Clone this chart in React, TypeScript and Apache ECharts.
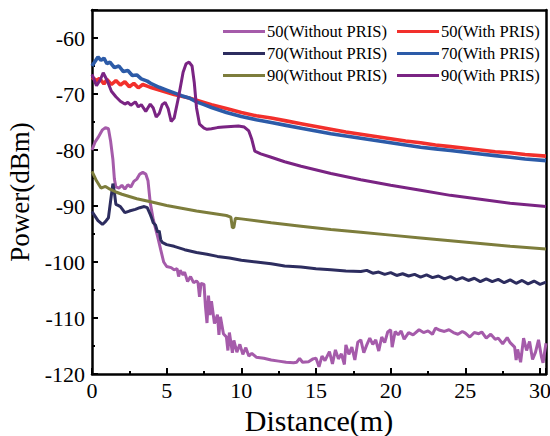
import React, { useEffect, useRef } from "react";
import * as echarts from "echarts";

const xTicks = [0, 5, 10, 15, 20, 25, 30];
const yTicks = [-120, -110, -100, -90, -80, -70, -60];

const seriesNames = [
  "50(Without PRIS)",
  "50(With PRIS)",
  "70(Without PRIS)",
  "70(With PRIS)",
  "90(Without PRIS)",
  "90(With PRIS)",
];

const colors = ["#A55BAA", "#F2302C", "#2D2D5F", "#2C5BA8", "#7D7D3C", "#7A2483"];

const s50Without: number[][] = [
  [0, -80], [0.2, -78.6], [0.4, -77.8], [0.7, -76.4], [0.9, -76], [1.1, -76.2], [1.25, -78.5],
  [1.4, -81.7], [1.5, -85.2], [1.6, -86.6], [1.8, -86.8], [2.0, -86.3], [2.2, -87], [2.4, -86.2],
  [2.6, -86.6], [2.8, -85.6], [3.0, -85.2], [3.2, -84.3], [3.4, -84], [3.6, -84.3], [3.75, -85.5],
  [3.9, -89.4], [4.1, -92.4], [4.3, -94.5], [4.4, -95.5], [4.6, -97.8], [4.8, -100], [5.0, -100.8],
  [5.3, -101], [5.5, -101.4], [5.7, -101.2], [5.8, -102.6], [5.9, -101.5], [6.1, -102.3], [6.2, -101.8],
  [6.4, -103.5], [6.6, -102.6], [6.8, -103.7], [7.0, -103.4], [7.1, -103.7], [7.2, -106.2], [7.3, -103.8],
  [7.5, -104], [7.6, -108], [7.7, -110.9], [7.8, -106], [7.9, -109.5], [8.0, -107], [8.2, -111],
  [8.4, -109.4], [8.5, -113], [8.6, -109.8], [8.8, -112.8], [9.0, -113.4], [9.1, -115.8], [9.2, -112.6],
  [9.4, -116.2], [9.5, -114], [9.7, -116.1], [9.9, -114.7], [10.1, -116.5], [10.3, -115.3], [10.5, -116.8],
  [10.7, -116.3], [11, -117], [11.5, -117.2], [12, -117.5], [12.5, -117.7], [13, -117.9], [13.5, -118],
  [13.7, -117.9], [13.9, -117.2], [14.1, -117.9], [14.5, -117.8], [14.8, -117.3], [15.0, -117.2],
  [15.2, -118.7], [15.4, -116.8], [15.6, -117.6], [15.9, -116], [16.1, -118.2], [16.3, -115.7],
  [16.5, -117.3], [16.7, -116.4], [16.9, -118.3], [17.0, -114.8], [17.2, -116.5], [17.4, -115.2],
  [17.6, -117.5], [17.8, -114.3], [18.0, -113.9], [18.2, -116.2], [18.4, -114.8], [18.6, -113.6],
  [18.8, -114.7], [19.0, -113.9], [19.2, -115.9], [19.4, -113.4], [19.6, -114.4], [19.8, -112.5],
  [20.0, -112.1], [20.1, -115.2], [20.3, -112.4], [20.5, -113], [20.7, -112.3], [20.9, -113.8],
  [21.2, -112.6], [21.5, -113], [21.9, -112.1], [22.2, -112.6], [22.5, -112.3], [22.8, -112.9],
  [23.0, -111.8], [23.3, -112.2], [23.6, -112.4], [23.9, -112.1], [24.2, -112.6], [24.5, -112.9],
  [24.8, -112.4], [25.0, -112.7], [25.3, -113.4], [25.6, -112.6], [25.9, -112.8], [26.1, -112.5],
  [26.4, -113.6], [26.7, -112.9], [27.0, -113.8], [27.2, -113.6], [27.5, -114.6], [27.8, -113.5],
  [28.0, -114.4], [28.3, -115.2], [28.4, -117.5], [28.5, -115.6], [28.7, -117.9], [28.9, -113.6],
  [29.1, -115.8], [29.3, -114.2], [29.5, -117.4], [29.7, -116.1], [29.9, -113.9], [30.1, -117],
  [30.2, -118], [30.4, -114.5],
];

const s50With: number[][] = [
  [0, -67], [0.3, -67.6], [0.5, -67.2], [0.8, -68.2], [1.0, -67.4], [1.3, -68.3], [1.6, -67.6],
  [1.9, -68.4], [2.2, -67.8], [2.5, -68.7], [2.8, -68.1], [3.1, -68.9], [3.4, -68.3], [3.7, -68.6],
  [4, -68.9], [4.5, -69.3], [5, -69.7], [5.5, -70.1], [6, -70.4], [6.5, -70.7], [7, -71.1],
  [7.5, -71.5], [8, -71.9], [9, -72.6], [10, -73.3], [11, -73.9], [12, -74.3], [13, -74.8],
  [14, -75.3], [15, -75.8], [16, -76.3], [17, -76.8], [18, -77.2], [19, -77.6], [20, -78],
  [21, -78.4], [22, -78.7], [23, -79.1], [24, -79.4], [25, -79.7], [26, -80], [27, -80.3],
  [28, -80.5], [29, -80.8], [30.4, -81.1],
];

const s70Without: number[][] = [
  [0, -91], [0.2, -91.8], [0.4, -92.6], [0.7, -93.3], [0.9, -92.8], [1.1, -92.1], [1.25, -89],
  [1.4, -86], [1.5, -87.6], [1.6, -89.7], [1.75, -89.9], [1.9, -90.1], [2.2, -91.2], [2.5, -90.9],
  [2.9, -90.6], [3.2, -90.3], [3.5, -90.1], [3.7, -90.3], [3.9, -91.5], [4.0, -92.2], [4.1, -93],
  [4.25, -93.4], [4.4, -94.7], [4.5, -94.4], [4.6, -96], [4.7, -96.5], [5.0, -96.9], [5.5, -97.2],
  [6.2, -97.8], [7, -98.3], [7.7, -98.6], [8.4, -99], [9.2, -99.3], [10, -99.7], [11, -100],
  [12, -100.3], [12.9, -100.7], [14, -100.9], [15, -101.2], [16, -101.4], [17, -101.6],
  [18, -101.7], [18.4, -101.5], [18.8, -102], [19.2, -101.8], [19.6, -102.2], [20, -101.9],
  [20.4, -102.4], [20.8, -102.1], [21.2, -102.5], [21.6, -102.2], [22, -102.7], [22.4, -102.3],
  [22.8, -102.8], [23.2, -102.5], [23.6, -103], [24, -102.6], [24.4, -103.2], [24.8, -102.8],
  [25.2, -103.3], [25.6, -102.9], [26, -103.5], [26.4, -103], [26.8, -103.5], [27.2, -103.1],
  [27.6, -103.7], [28, -103.2], [28.4, -103.8], [28.8, -103.3], [29.2, -103.9], [29.6, -103.4],
  [30, -104], [30.4, -103.6],
];

const s70With: number[][] = [
  [0, -65], [0.2, -64.2], [0.4, -63.4], [0.6, -64], [0.8, -63.6], [1.0, -64.6], [1.2, -64.3],
  [1.5, -65.3], [1.8, -65], [2.1, -66], [2.4, -65.8], [2.7, -66.7], [3, -66.6], [3.3, -67.3],
  [3.7, -67.7], [4, -68.2], [4.5, -68.8], [5, -69.3], [5.5, -69.8], [6, -70.3], [6.5, -70.7],
  [7, -71.4], [7.5, -71.9], [8, -72.4], [9, -73.3], [10, -74], [11, -74.6], [12, -75.1],
  [13, -75.6], [14, -76.1], [15, -76.6], [16, -77.1], [17, -77.5], [18, -77.9], [19, -78.3],
  [20, -78.7], [21, -79.1], [22, -79.5], [23, -79.8], [24, -80.1], [25, -80.4], [26, -80.7],
  [27, -81], [28, -81.3], [29, -81.6], [30.4, -81.9],
];

const s90Without: number[][] = [
  [0, -83.8], [0.3, -85.5], [0.6, -86.8], [0.9, -86.5], [1.2, -87], [1.6, -87.5], [2, -87.9],
  [3, -88.7], [4, -89.3], [5, -89.9], [6, -90.4], [7, -90.9], [8, -91.3], [9, -91.7], [9.3, -92],
  [9.4, -93.9], [9.5, -93.8], [9.6, -92.2], [10, -92.3], [12, -93], [14, -93.6], [16, -94.2],
  [18, -94.7], [20, -95.2], [22, -95.7], [24, -96.2], [26, -96.7], [28, -97.2], [30.4, -97.7],
];

const s90With: number[][] = [
  [0, -66.5], [0.3, -68.5], [0.55, -67.5], [0.75, -66.2], [1.0, -67.5], [1.3, -69.5], [1.6, -70.5],
  [1.9, -71.3], [2.2, -71.8], [2.4, -71.5], [2.6, -72], [2.9, -71.4], [3.1, -72.3], [3.3, -71.9],
  [3.6, -73.1], [3.9, -71.8], [4.1, -72.5], [4.3, -74.1], [4.5, -73.5], [4.7, -71.9], [4.9, -71.5],
  [5.1, -72.6], [5.3, -74.9], [5.5, -74.3], [5.8, -70.5], [6.1, -66.1], [6.3, -64.6], [6.5, -64.3],
  [6.7, -65], [6.85, -68], [7.0, -72.5], [7.2, -75.4], [7.5, -76.1], [7.7, -76.3], [8.0, -76.2],
  [8.4, -76], [8.8, -75.9], [9.3, -75.8], [9.8, -75.7], [10.2, -75.9], [10.5, -76.6], [10.7, -78.1],
  [10.9, -80.2], [11.3, -80.7], [12, -81.3], [12.9, -82.1], [14, -82.9], [16, -84.2], [18, -85.3],
  [20, -86.3], [22, -87.2], [24, -88.1], [26, -88.8], [28, -89.5], [30.4, -90.1],
];

const seriesData = [s50Without, s50With, s70Without, s70With, s90Without, s90With];
const lineWidths = [3, 3.6, 3, 3.6, 3, 3];

const FONT = "Liberation Serif";

export default function App() {
  const ref = useRef<HTMLDivElement>(null);
  useEffect(() => {
    if (!ref.current) return;
    const chart = echarts.init(ref.current, undefined, { renderer: "svg" });
    const axisLineStyle = { color: "#000", width: 2.5 };
    const legendCommon = {
      orient: "vertical",
      top: 18,
      icon: "rect",
      itemWidth: 42,
      itemHeight: 3,
      itemGap: 5,
      selectedMode: false,
      textStyle: { fontFamily: FONT, fontSize: 16.5, lineHeight: 17, color: "#000", padding: [0, 0, 0, -3] },
    };
    chart.setOption({
      animation: false,
      backgroundColor: "#fff",
      textStyle: { fontFamily: FONT, color: "#000" },
      grid: { left: 92, right: 4, top: 10, bottom: 62, containLabel: false, outerBoundsMode: "none" },
      legend: [
        { ...legendCommon, left: 218, data: [seriesNames[0], seriesNames[2], seriesNames[4]] },
        { ...legendCommon, left: 392, data: [seriesNames[1], seriesNames[3], seriesNames[5]] },
      ],
      xAxis: [
        {
          type: "value",
          min: xTicks[0],
          max: 30.4,
          interval: 5,
          name: "Distance(m)",
          nameLocation: "middle",
          nameGap: 26,
          nameTextStyle: { fontFamily: FONT, fontSize: 30, color: "#000" },
          axisLine: { show: true, lineStyle: axisLineStyle },
          axisTick: { show: true, inside: true, length: 6, lineStyle: { color: "#000", width: 2 } },
          minorTick: { show: true, splitNumber: 2, length: 3, lineStyle: { color: "#000", width: 2 } },
          splitLine: { show: false },
          axisLabel: {
            fontFamily: FONT,
            fontSize: 22,
            color: "#000",
            margin: 5,
            showMaxLabel: false,
            formatter: (v: number) => (xTicks.includes(v) ? String(v) : ""),
          },
        },
        {
          type: "value",
          position: "top",
          min: 0,
          max: 30.4,
          axisLine: { show: true, onZero: false, lineStyle: axisLineStyle },
          axisTick: { show: false },
          axisLabel: { show: false },
          splitLine: { show: false },
        },
      ],
      yAxis: [
        {
          type: "value",
          min: yTicks[0],
          max: -55,
          interval: 10,
          name: "Power(dBm)",
          nameLocation: "middle",
          nameGap: 52,
          nameTextStyle: { fontFamily: FONT, fontSize: 27, color: "#000" },
          axisLine: { show: true, onZero: false, lineStyle: axisLineStyle },
          axisTick: { show: true, inside: true, length: 6, lineStyle: { color: "#000", width: 2 } },
          minorTick: { show: true, splitNumber: 2, length: 3, lineStyle: { color: "#000", width: 2 } },
          splitLine: { show: false },
          axisLabel: {
            fontFamily: FONT,
            fontSize: 22,
            color: "#000",
            margin: 7,
            showMaxLabel: false,
            formatter: (v: number) => (yTicks.includes(v) ? String(v) : ""),
          },
        },
        {
          type: "value",
          position: "right",
          min: -120,
          max: -55,
          axisLine: { show: true, onZero: false, lineStyle: axisLineStyle },
          axisTick: { show: false },
          axisLabel: { show: false },
          splitLine: { show: false },
        },
      ],
      series: seriesData.map((d, i) => ({
        name: seriesNames[i],
        type: "line",
        data: d,
        symbol: "none",
        smooth: false,
        xAxisIndex: 0,
        yAxisIndex: 0,
        lineStyle: { color: colors[i], width: lineWidths[i] },
        itemStyle: { color: colors[i] },
      })),
    });
    return () => chart.dispose();
  }, []);
  return (
    <div
      ref={ref}
      style={{ position: "fixed", left: 0, top: 0, width: 550, height: 436 }}
    />
  );
}
